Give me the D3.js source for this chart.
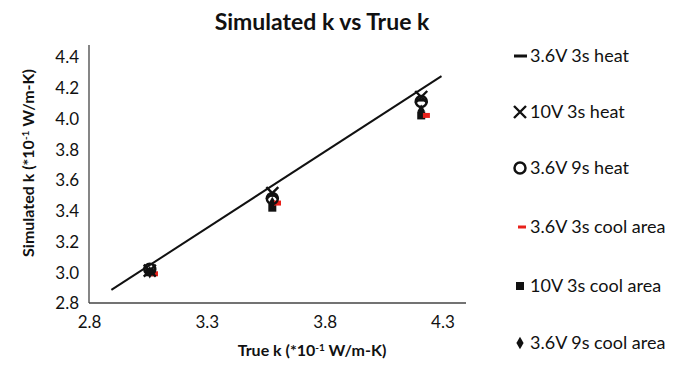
<!DOCTYPE html>
<html>
<head>
<meta charset="utf-8">
<script src="https://cdn.jsdelivr.net/npm/d3@7"></script>
<style>
  body { margin: 0; background: #fff; }
  text { font-family: "Lato", "Open Sans", sans-serif; fill: #111; }
</style>
</head>
<body>
<div id="chart"></div>
<script>
// true k values for the three test points
var trueK = [3.058, 3.578, 4.21];
var trueKShift = [3.078, 3.600, 4.232]; // red cool-area markers sit slightly right
var heat36v3s = [3.01, 3.50, 4.12];
var heat10v3s = [3.01, 3.515, 4.14];
var heat36v9s = [3.02, 3.48, 4.11];
var cool36v3s = [2.99, 3.45, 4.02];
var cool10v3s = [3.00, 3.42, 4.02];
var cool36v9s = [3.00, 3.45, 4.05];
// simple fitted line
var fitX = [2.895, 4.296];
var fitY = [2.885, 4.276];
var xTicks = [2.8, 3.3, 3.8, 4.3];
var yTicks = [2.8, 3.0, 3.2, 3.4, 3.6, 3.8, 4.0, 4.2, 4.4];
var legendNames = ["3.6V 3s heat", "10V 3s heat", "3.6V 9s heat",
                   "3.6V 3s cool area", "10V 3s cool area", "3.6V 9s cool area"];

var width = 686, height = 365;
var svg = d3.select("#chart").append("svg")
    .attr("width", width).attr("height", height);

var x = d3.scaleLinear().domain([2.8, 4.4]).range([89, 466]);
var y = d3.scaleLinear().domain([2.8, 4.4]).range([303, 57]);

// title
svg.append("text")
    .attr("x", 322).attr("y", 30)
    .attr("text-anchor", "middle")
    .style("font-size", "23px").style("font-weight", "bold")
    .text("Simulated k vs True k");

// axes, no tick marks
var xAxis = svg.append("g")
    .attr("transform", "translate(0,303)")
    .call(d3.axisBottom(x).tickValues(xTicks).tickSize(0).tickPadding(13)
        .tickFormat(d3.format(".1f")));
var yAxis = svg.append("g")
    .attr("transform", "translate(89,0)")
    .call(d3.axisLeft(y).tickValues(yTicks).tickSize(0).tickPadding(10)
        .tickFormat(d3.format(".1f")));
xAxis.select(".domain").attr("d", "M89,0H466").attr("stroke", "#444").attr("stroke-width", 1.3);
yAxis.select(".domain").attr("d", "M0,45V303").attr("stroke", "#444").attr("stroke-width", 1.3);
svg.selectAll(".tick text")
    .style("font-family", "Lato, sans-serif").style("font-size", "17px").attr("fill", "#111");
yAxis.selectAll(".tick text").attr("dy", "0.35em");

// axis titles
var xt = svg.append("text")
    .attr("x", 312).attr("y", 356)
    .attr("text-anchor", "middle")
    .style("font-size", "16px").style("font-weight", "bold");
xt.append("tspan").text("True k  (*10");
xt.append("tspan").attr("dy", -5).style("font-size", "10px").text("-1");
xt.append("tspan").attr("dy", 5).text(" W/m-K)");

var yt = svg.append("text")
    .attr("transform", "translate(34,163) rotate(-90)")
    .attr("text-anchor", "middle")
    .style("font-size", "16px").style("font-weight", "bold");
yt.append("tspan").text("Simulated k  (*10");
yt.append("tspan").attr("dy", -5).style("font-size", "10px").text("-1");
yt.append("tspan").attr("dy", 5).text(" W/m-K)");

// trend line
svg.append("path")
    .datum(d3.zip(fitX, fitY))
    .attr("fill", "none").attr("stroke", "#111").attr("stroke-width", 2)
    .attr("d", d3.line().x(function (d) { return x(d[0]); }).y(function (d) { return y(d[1]); }));

// marker drawing helpers
var shapes = {
    dash: function (g) { g.append("rect").attr("x", -5).attr("y", -1.5).attr("width", 10).attr("height", 3).attr("fill", "#111"); },
    cross: function (g) { g.append("path").attr("d", "M-6,-6L6,6M6,-6L-6,6").attr("stroke", "#111").attr("stroke-width", 2.4); },
    circle: function (g) { g.append("circle").attr("r", 5.5).attr("fill", "none").attr("stroke", "#111").attr("stroke-width", 2.5); },
    red: function (g) { g.append("rect").attr("x", -3.5).attr("y", -2.5).attr("width", 7).attr("height", 5).attr("fill", "#e8201a"); },
    square: function (g) { g.append("rect").attr("x", -4).attr("y", -4).attr("width", 8).attr("height", 8).attr("fill", "#111"); },
    diamond: function (g) { g.append("path").attr("d", d3.symbol().type(d3.symbolDiamond).size(45)()).attr("fill", "#111"); }
};

var series = [
    { xs: trueK, ys: cool10v3s, shape: "square" },
    { xs: trueK, ys: cool36v9s, shape: "diamond" },
    { xs: trueKShift, ys: cool36v3s, shape: "red" },
    { xs: trueK, ys: heat36v9s, shape: "circle" },
    { xs: trueK, ys: heat10v3s, shape: "cross" },
    { xs: trueK, ys: heat36v3s, shape: "dash" }
];

series.forEach(function (s) {
    svg.append("g").selectAll("g")
        .data(d3.zip(s.xs, s.ys))
        .enter().append("g")
        .attr("transform", function (d) { return "translate(" + x(d[0]) + "," + y(d[1]) + ")"; })
        .each(function () { shapes[s.shape](d3.select(this)); });
});

// legend
var legendShapes = ["dash", "cross", "circle", "red", "square", "diamond"];
var legendY = [56, 112, 168, 227, 286, 343];
var leg = svg.append("g").selectAll("g")
    .data(legendNames)
    .enter().append("g")
    .attr("transform", function (d, i) { return "translate(520," + legendY[i] + ")"; });
leg.each(function (d, i) {
    var g = d3.select(this);
    if (legendShapes[i] === "dash") {
        g.append("rect").attr("x", -6).attr("y", -1.5).attr("width", 13).attr("height", 3).attr("fill", "#111");
    } else if (legendShapes[i] === "red") {
        g.append("rect").attr("x", -2).attr("y", -1.5).attr("width", 8).attr("height", 3).attr("fill", "#e8201a");
    } else {
        shapes[legendShapes[i]](g);
    }
});
leg.append("text")
    .attr("x", 10).attr("dy", "0.35em")
    .style("font-size", "18px")
    .text(function (d) { return d; });
</script>
</body>
</html>
